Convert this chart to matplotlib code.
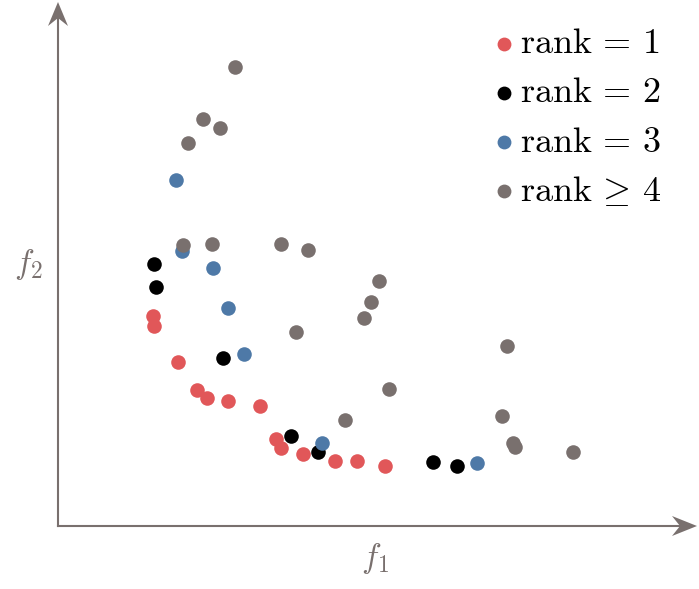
import numpy as np
import matplotlib.pyplot as plt
from matplotlib.patches import Polygon

plt.rcParams['mathtext.fontset'] = 'cm'

# objective values (arbitrary units, origin at the axes corner)
rank1_f1 = [95, 96, 120, 139, 149, 170, 202, 218, 223, 245, 277, 299, 327]
rank1_f2 = [210, 200, 164, 136, 128, 125, 120, 87, 78, 72, 65, 65, 60]

rank2_f1 = [96, 98, 165, 233, 260, 375, 399]
rank2_f2 = [262, 239, 168, 90, 74, 64, 60]

rank3_f1 = [118, 124, 155, 170, 186, 264, 419]
rank3_f2 = [346, 275, 258, 218, 172, 83, 63]

rank4_f1 = [177, 145, 162, 130, 125, 154, 223, 250, 238, 287, 321, 313, 306, 449, 331, 444, 455, 457, 515]
rank4_f2 = [459, 407, 398, 383, 281, 282, 282, 276, 194, 106, 245, 224, 208, 180, 137, 110, 83, 79, 74]

red = '#e15759'
black = '#000000'
blue = '#4e79a7'
gray = '#79706e'

fig = plt.figure(figsize=(6.99, 5.89), dpi=100)
ax = fig.add_axes([0, 0, 1, 1])
ax.set_xlim(-58, 641)
ax.set_ylim(-63, 526)
ax.axis('off')

s = 110
ax.scatter(rank1_f1, rank1_f2, s=s, color=red, lw=0, label=r'$\mathrm{rank}\, =\, 1$', zorder=3)
ax.scatter(rank2_f1, rank2_f2, s=s, color=black, lw=0, label=r'$\mathrm{rank}\, =\, 2$', zorder=3)
ax.scatter(rank3_f1, rank3_f2, s=s, color=blue, lw=0, label=r'$\mathrm{rank}\, =\, 3$', zorder=3)
ax.scatter(rank4_f1, rank4_f2, s=s, color=gray, lw=0, label=r'$\mathrm{rank}\, \geq\, 4$', zorder=3)

# axes with stealth-like arrowheads
ax.plot([0, 630], [0, 0], color=gray, lw=1.5, zorder=1)
ax.plot([0, 0], [0, 510], color=gray, lw=1.5, zorder=1)
ax.add_patch(Polygon([(639, 0), (614, 10), (622, 0), (614, -10)], closed=True, color=gray, lw=0))
ax.add_patch(Polygon([(0, 524), (10, 500), (0, 508), (-10, 500)], closed=True, color=gray, lw=0))

ax.text(317, -32, r'$f_1$', fontsize=24, color=gray, ha='center', va='center')
ax.text(-30, 261, r'$f_2$', fontsize=24, color=gray, ha='center', va='center')

ax.legend(loc='upper right', bbox_to_anchor=(0.967, 0.98), frameon=False, fontsize=26,
          handletextpad=-0.55, labelspacing=0.42, borderaxespad=0, markerscale=0.95,
          scatterpoints=1)

fig.savefig('out.png', dpi=100)
